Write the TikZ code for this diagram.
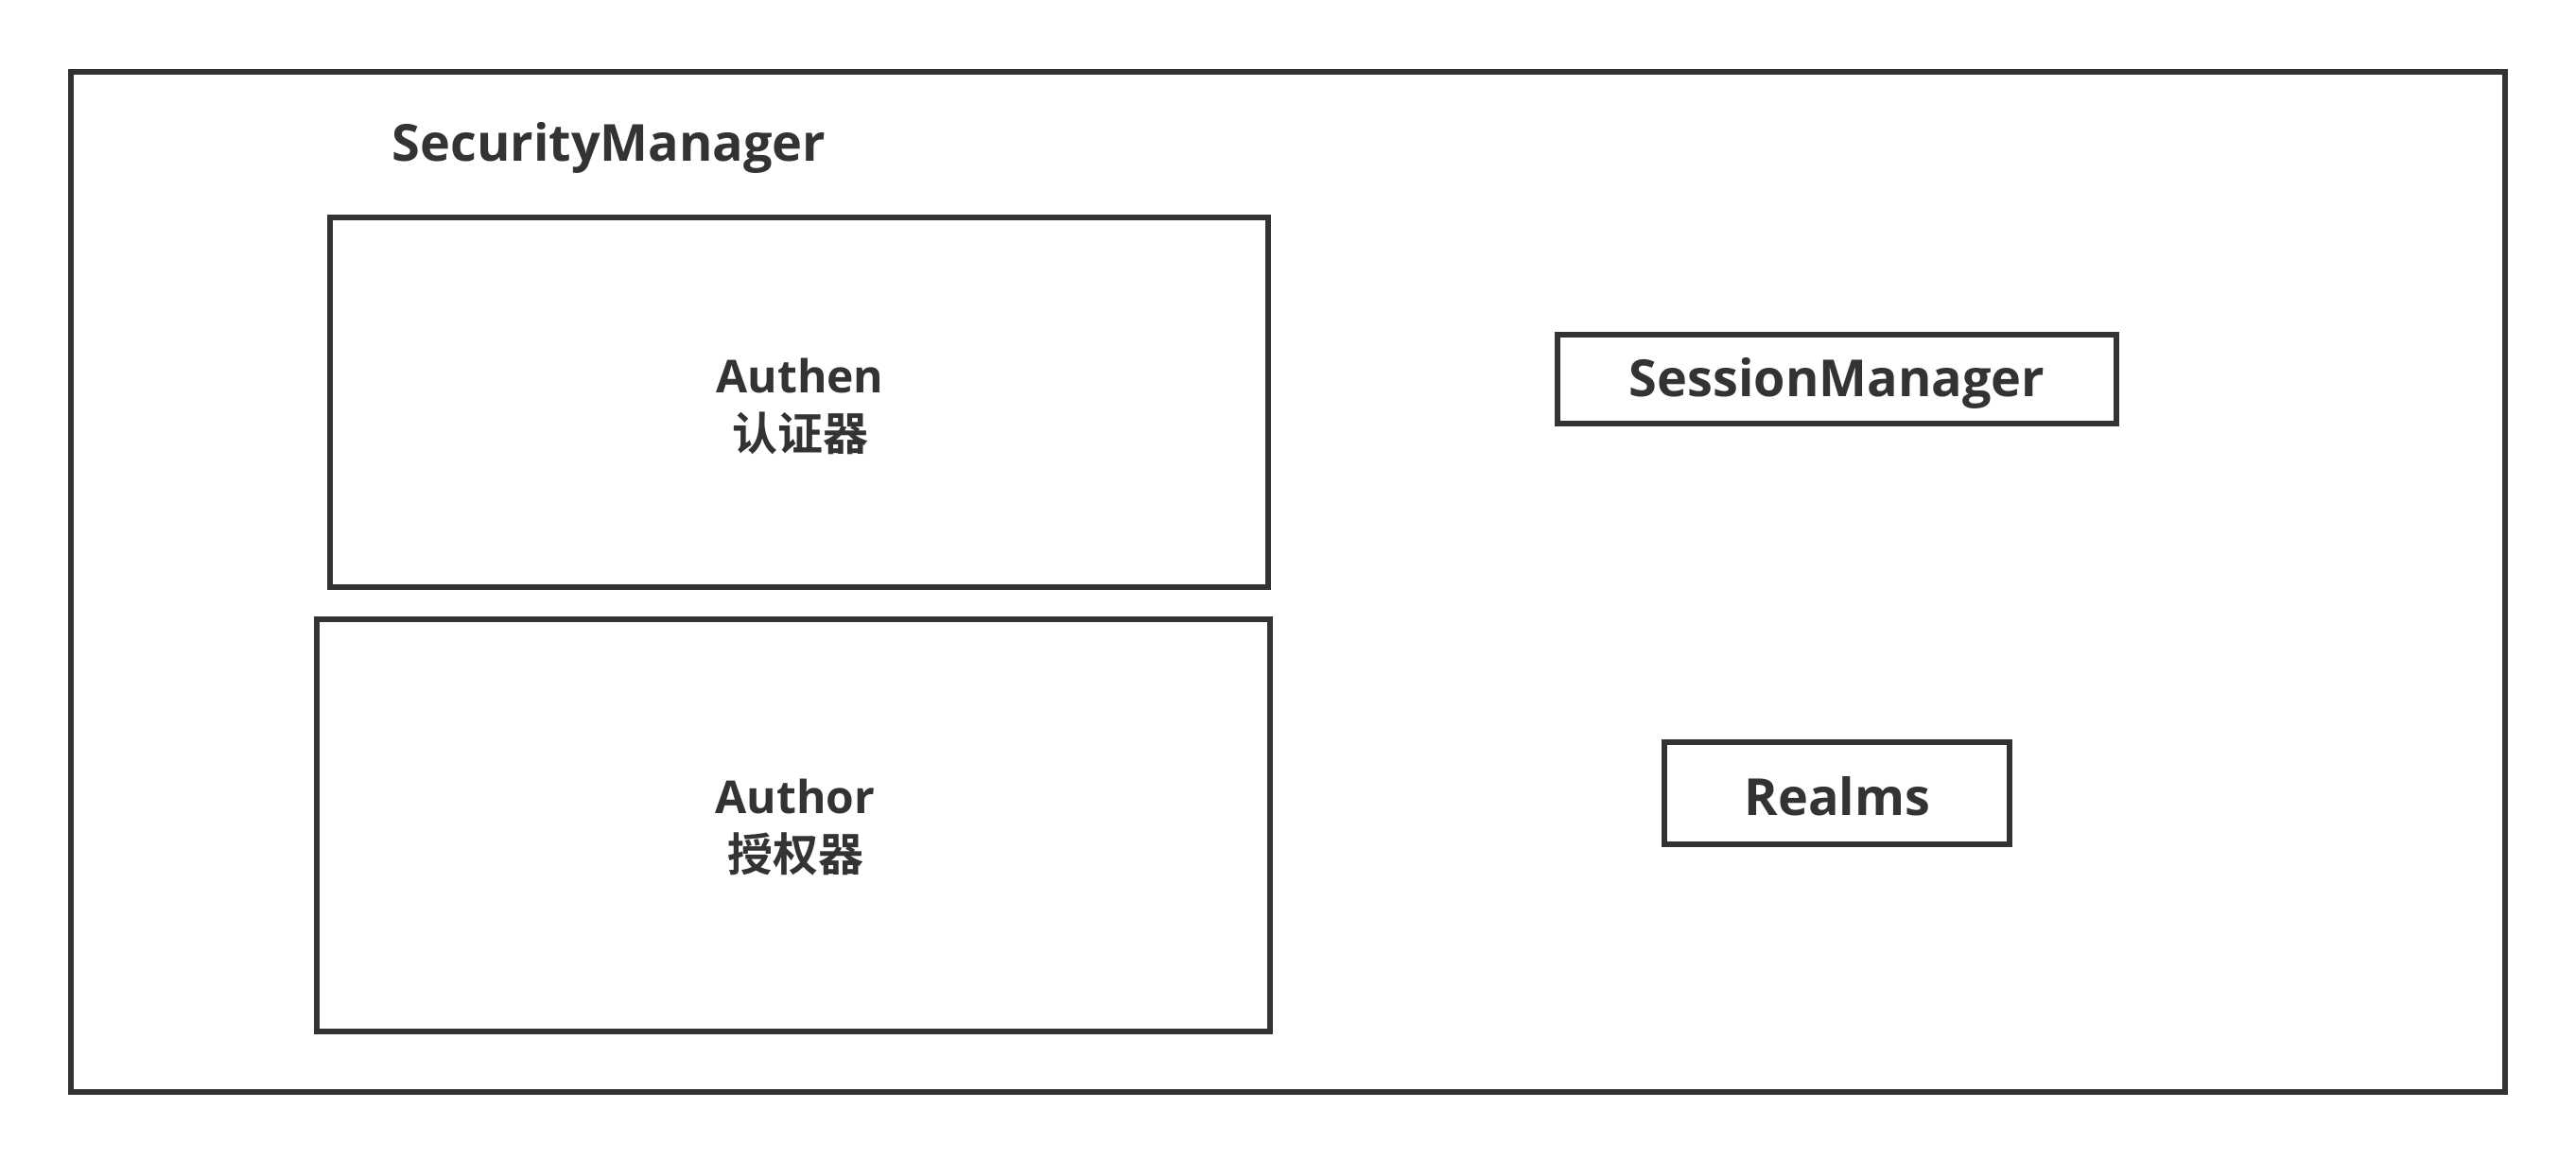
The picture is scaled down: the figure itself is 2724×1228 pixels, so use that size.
\documentclass[tikz,border=0pt]{standalone}
\usepackage{fontspec}
\setmainfont{Open Sans}
\newfontfamily\cjk{Noto Sans CJK SC}[BoldFont={Noto Sans CJK SC Bold}]
\definecolor{ink}{HTML}{333333}
\tikzset{
  box/.style={draw=ink, line width=5.5pt, rectangle, inner sep=0pt},
  lbl/.style={text=ink, font=\fontsize{54}{61}\selectfont\bfseries, align=center, inner sep=0pt},
  lbltwo/.style={text=ink, font=\fontsize{48}{61}\selectfont\bfseries, align=center, inner sep=0pt}
}
\begin{document}
\begin{tikzpicture}[x=1pt,y=-1pt]
\useasboundingbox[fill=white] (0,0) rectangle (2724,1228);
\node[box, minimum width=2574pt, minimum height=1079pt] (outer) at (1362,615.5) {};
\node[lbl] (title) at (644,156) {SecurityManager};
\node[box, minimum width=992pt, minimum height=391pt] (authen) at (845,425.5) {};
\node[lbltwo] (authent) at (846,430) {Authen\\{\cjk\bfseries 认证器}};
\node[box, minimum width=1008pt, minimum height=436pt] (author) at (839,873) {};
\node[lbltwo] (authort) at (841,875) {Author\\{\cjk\bfseries 授权器}};
\node[box, minimum width=591pt, minimum height=94pt] (session) at (1942.5,401) {};
\node[lbl] (sessiont) at (1942.5,405) {SessionManager};
\node[box, minimum width=365pt, minimum height=108pt] (realms) at (1942.5,839) {};
\node[lbl] (realmst) at (1943,842) {Realms};
\end{tikzpicture}
\end{document}
